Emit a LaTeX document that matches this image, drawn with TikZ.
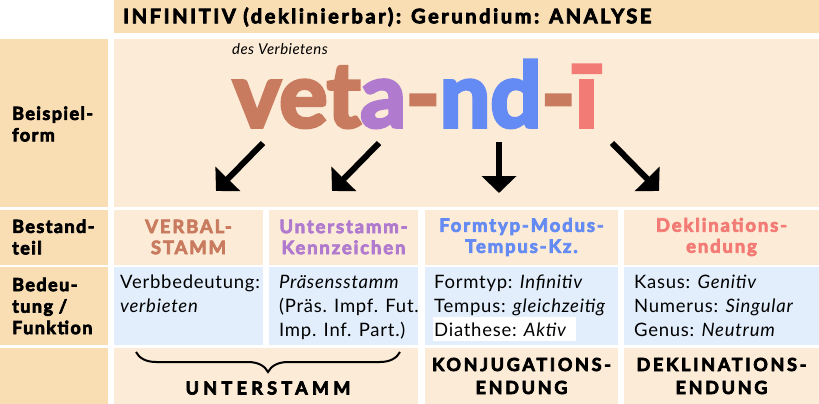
\documentclass[tikz,border=0pt]{standalone}
\usepackage{fontspec}
\setmainfont{Lato}[BoldFeatures={FakeBold=4}]
\usetikzlibrary{decorations.pathreplacing,arrows.meta}
\definecolor{tanc}{HTML}{F9DEB4}
\definecolor{lightc}{HTML}{FCEBD6}
\definecolor{bluec}{HTML}{E2EEFC}
\definecolor{cbrown}{HTML}{C97B5F}
\definecolor{cpurple}{HTML}{B07BCF}
\definecolor{cblue}{HTML}{648BF3}
\definecolor{csalmon}{HTML}{F37B76}
\tikzset{
 lbl/.style={anchor=west, align=left, font=\fontsize{18}{21.5}\selectfont\bfseries\addfontfeature{LetterSpace=8}, inner sep=0pt},
 hd/.style={align=center, font=\fontsize{18.5}{21}\selectfont\bfseries\addfontfeature{LetterSpace=10}, inner sep=0pt},
 body/.style={anchor=north west, align=left, font=\fontsize{18.5}{24}\selectfont\addfontfeature{LetterSpace=4}, inner sep=0pt},
 caps/.style={align=center, font=\fontsize{18}{23}\selectfont\bfseries\addfontfeature{LetterSpace=15}, inner sep=0pt},
 arr/.style={line width=6pt, -{Triangle[width=34pt,length=17pt]}},
}
\begin{document}
\begin{tikzpicture}[x=1pt,y=-1pt]
\useasboundingbox (0,0) rectangle (819,404);
\fill[white] (0,0) rectangle (819,404);
% header
\fill[tanc] (114,0) rectangle (819,33);
% left column
\fill[tanc] (0,39) rectangle (108,207);
\fill[tanc] (0,210) rectangle (108,265);
\fill[tanc] (0,267) rectangle (108,345);
\fill[tanc] (0,348) rectangle (108,404);
% row 1
\fill[lightc] (114,39) rectangle (819,207);
% row 2
\fill[lightc] (114,210) rectangle (263,265);
\fill[lightc] (269,210) rectangle (418,265);
\fill[lightc] (425,210) rectangle (618,265);
\fill[lightc] (624,210) rectangle (819,265);
% row 3
\fill[bluec] (114,267) rectangle (263,345);
\fill[bluec] (269,267) rectangle (418,345);
\fill[bluec] (425,267) rectangle (618,345);
\fill[bluec] (624,267) rectangle (819,345);
% row 4
\fill[lightc] (114,348) rectangle (418,404);
\fill[lightc] (425,348) rectangle (618,404);
\fill[lightc] (624,348) rectangle (819,404);
\fill[white] (433,317) rectangle (576,341);

% header text
\node[anchor=west, inner sep=0pt, font=\fontsize{20}{22}\selectfont\bfseries\addfontfeature{LetterSpace=13}] (title) at (123,17)
  {INFINITIV (deklinierbar): Gerundium: ANALYSE};

% left labels
\node[lbl] (lb1) at (12,124) {Beispiel-\\form};
\node[lbl] (lb2) at (12,237) {Bestand-\\teil};
\node[lbl] (lb3) at (12,306) {Bedeu-\\tung /\\Funktion};

% example form
\node[anchor=base west, inner sep=0pt, font=\fontsize{15}{17}\selectfont\itshape\addfontfeature{LetterSpace=3}] (gloss) at (232,55) {des Verbietens};
\node[anchor=base west, inner sep=0pt, text height=60pt, font=\fontsize{90}{100}\selectfont\bfseries] (word) at (233,127)
  {\color{cbrown}vet\color{cpurple}a\color{cbrown}-\color{cblue}nd\color{cbrown}-\color{csalmon}ī};

% arrows
\coordinate (a1s) at (263,143); \coordinate (a1e) at (216,191);
\coordinate (a2s) at (379,143); \coordinate (a2e) at (332,191);
\coordinate (a3s) at (499,142); \coordinate (a3e) at (499,193);
\coordinate (a4s) at (612,143); \coordinate (a4e) at (659,191);
\draw[arr] (a1s) -- (a1e);
\draw[arr] (a2s) -- (a2e);
\draw[arr] (a3s) -- (a3e);
\draw[arr] (a4s) -- (a4e);

% headings
\node[hd, text=cbrown] (h1) at (188.5,237) {VERBAL-\\STAMM};
\node[hd, text=cpurple] (h2) at (343.5,237) {Unterstamm-\\Kennzeichen};
\node[hd, text=cblue] (h3) at (521.5,237) {Formtyp-Modus-\\Tempus-Kz.};
\node[hd, text=csalmon] (h4) at (721.5,237) {Deklinations-\\endung};

% meanings
\node[body] (m1) at (120,275) {Verbbedeutung:\\\textit{verbieten}};
\node[body] (m2) at (279,275) {\textit{Präsensstamm}\\(Präs. Impf. Fut.\\Imp. Inf. Part.)};
\node[body] (m3) at (434,275) {Formtyp: \textit{Infinitiv}\\Tempus: \textit{gleichzeitig}\\Diathese: \textit{Aktiv}};
\node[body] (m4) at (634,275) {Kasus: \textit{Genitiv}\\Numerus: \textit{Singular}\\Genus: \textit{Neutrum}};

% bottom row
\coordinate (bl) at (136,352); \coordinate (br) at (400,352);
\draw[line width=2pt, decorate, decoration={brace, mirror, amplitude=20pt}] (bl) -- (br);
\node[caps, font=\fontsize{18}{23}\selectfont\bfseries\addfontfeature{LetterSpace=24}] (us) at (268,388) {UNTERSTAMM};
\node[caps] (ke) at (521.5,376) {KONJUGATIONS-\\ENDUNG};
\node[caps] (de) at (721.5,376) {DEKLINATIONS-\\ENDUNG};
\end{tikzpicture}
\end{document}
